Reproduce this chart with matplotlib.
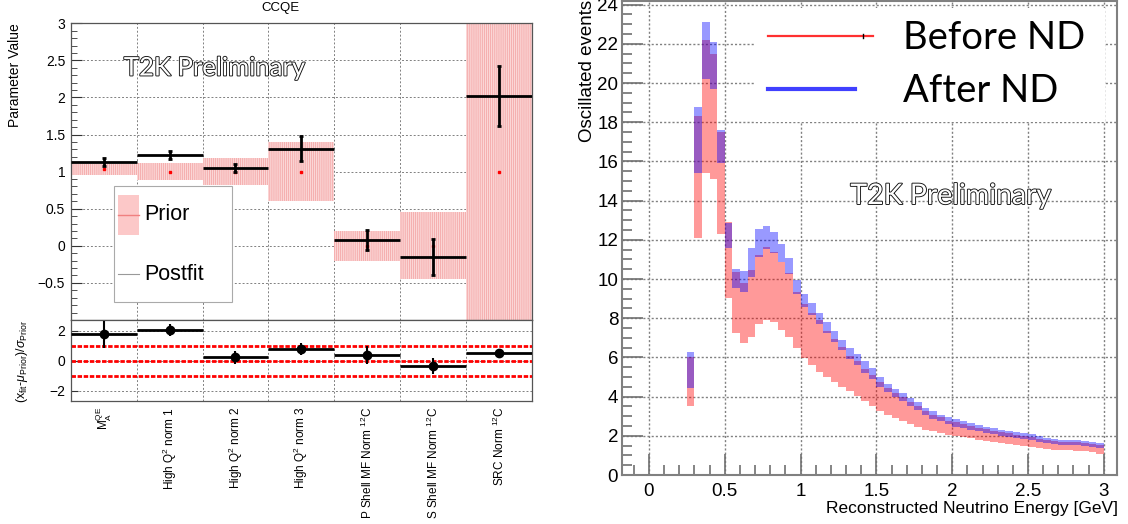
import numpy as np
import matplotlib.pyplot as plt
import matplotlib.patheffects as pe
from matplotlib.patches import Rectangle
from matplotlib.lines import Line2D
from matplotlib.ticker import MultipleLocator

W, H = 1128, 524

plt.rcParams['font.family'] = ['Liberation Sans', 'DejaVu Sans']
plt.rcParams['mathtext.fontset'] = 'custom'
plt.rcParams['mathtext.rm'] = 'Liberation Sans'
plt.rcParams['mathtext.it'] = 'Liberation Sans:italic'
plt.rcParams['hatch.linewidth'] = 0.5

# ---- CCQE parameters (left) ----
par_names = [r'M$_{\rm A}^{\rm QE}$', r'High Q$^{\rm 2}$ norm 1', r'High Q$^{\rm 2}$ norm 2',
             r'High Q$^{\rm 2}$ norm 3', r'P Shell MF Norm $^{\rm 12}$C',
             r'S Shell MF Norm $^{\rm 12}$C', r'SRC Norm $^{\rm 12}$C']
prior_val = [1.03, 1.0, 1.0, 1.0, 0.0, 0.0, 1.0]
prior_err = [0.07, 0.11, 0.18, 0.40, 0.20, 0.45, 2.04]
post_val = [1.13, 1.225, 1.05, 1.31, 0.077, -0.148, 2.02]
post_err = [0.06, 0.06, 0.05, 0.17, 0.13, 0.24, 0.40]
pull_val = [1.78, 2.07, 0.24, 0.80, 0.40, -0.31, 0.55]
pull_err = [0.90, 0.42, 0.42, 0.40, 0.60, 0.53, 0.15]

# ---- oscillated event spectrum (right), 0.05 GeV bins from 0.25 GeV ----
bin_start, bin_w = 0.25, 0.05
before_lo = [3.54, 12.1, 15.4, 15.1, 12.3, 9.05, 7.23, 6.72, 7.06, 7.69,
             7.91, 7.79, 7.40, 7.06, 6.46, 5.95, 5.61, 5.24, 4.98, 4.76,
             4.49, 4.27, 4.01, 3.80, 3.53, 3.24, 3.07, 2.90, 2.73, 2.61,
             2.47, 2.30, 2.22, 2.13, 2.05, 1.99, 1.93, 1.88, 1.79, 1.74,
             1.67, 1.62, 1.57, 1.52, 1.47, 1.44, 1.39, 1.34, 1.30, 1.27,
             1.26, 1.25, 1.22, 1.18, 1.08]
before_hi = [6.04, 18.3, 22.2, 21.5, 17.5, 12.9, 10.37, 9.78, 10.46, 11.22,
             11.62, 11.39, 10.88, 10.29, 9.35, 8.72, 8.28, 7.91, 7.36, 6.94,
             6.51, 6.06, 5.80, 5.41, 5.12, 4.73, 4.44, 4.18, 3.98, 3.72,
             3.50, 3.24, 3.07, 2.94, 2.78, 2.70, 2.60, 2.50, 2.42, 2.33,
             2.25, 2.18, 2.12, 2.06, 1.99, 1.94, 1.86, 1.79, 1.72, 1.67,
             1.67, 1.68, 1.64, 1.57, 1.52]
after_lo = [4.42, 15.4, 20.2, 19.7, 15.9, 11.57, 9.56, 9.35, 10.09, 11.10,
            11.55, 11.35, 10.85, 10.25, 9.23, 8.59, 8.16, 7.69, 7.26, 6.80,
            6.38, 5.90, 5.60, 5.20, 4.90, 4.50, 4.22, 3.97, 3.77, 3.52,
            3.30, 3.05, 2.88, 2.75, 2.60, 2.47, 2.38, 2.30, 2.22, 2.14,
            2.07, 2.00, 1.94, 1.89, 1.82, 1.77, 1.70, 1.63, 1.57, 1.52,
            1.52, 1.52, 1.48, 1.42, 1.36]
after_hi = [6.26, 18.8, 23.1, 22.1, 17.6, 12.87, 10.49, 10.42, 11.57, 12.55,
            12.72, 12.38, 11.77, 11.09, 9.95, 9.23, 8.76, 8.28, 7.82, 7.35,
            6.89, 6.48, 6.19, 5.80, 5.46, 4.98, 4.64, 4.39, 4.18, 3.92,
            3.70, 3.41, 3.24, 3.07, 2.94, 2.87, 2.76, 2.66, 2.55, 2.46,
            2.38, 2.31, 2.24, 2.18, 2.12, 2.07, 1.99, 1.91, 1.83, 1.78,
            1.78, 1.79, 1.75, 1.70, 1.65]

fig = plt.figure(figsize=(W / 100, H / 100), dpi=100)


def fx(x):
    return x / W


def fy(y):
    return 1 - y / H


def outlined(x, y, s, size):
    fig.text(fx(x), fy(y), s, fontsize=size, family=['Lato', 'DejaVu Sans'],
             color='white', ha='center', va='center', zorder=20,
             path_effects=[pe.withStroke(linewidth=1.3, foreground='#111111')])


npar = len(par_names)
idx = np.arange(npar)
cent = idx + 0.5
grid_kw = dict(color='#808080', linestyle=(0, (2, 2)), linewidth=0.7)
fmt_g = plt.FuncFormatter(lambda v, p: f'{v:g}'.replace('-', '\u2212'))

# ---------- left: parameter values ----------
ax1 = fig.add_axes([fx(70.7), fy(320), fx(532) - fx(70.7), fy(23.3) - fy(320)])
ax1.set_xlim(0, npar)
ax1.set_ylim(-1, 3)
ax1.bar(cent, 2 * np.array(prior_err), bottom=np.array(prior_val) - np.array(prior_err),
        width=1.0, facecolor='#fbd6d6', edgecolor='#f3a0a0', hatch='||||||||', linewidth=0, zorder=2)
ax1.plot(cent, prior_val, 's', color='red', ms=1.6, zorder=3)
ax1.hlines(post_val, idx, idx + 1, color='black', lw=2, zorder=4)
ax1.errorbar(cent, post_val, yerr=post_err, fmt='none', ecolor='black',
             elinewidth=2, capsize=1.5, capthick=2, zorder=4)
ax1.set_yticks(np.arange(-0.5, 3.01, 0.5))
ax1.yaxis.set_major_formatter(fmt_g)
ax1.yaxis.set_minor_locator(MultipleLocator(0.1))
ax1.set_xticks(np.arange(1, npar))
ax1.tick_params(axis='x', length=0, labelbottom=False)
ax1.tick_params(axis='y', which='major', direction='in', length=8, width=0.8,
                labelsize=10, pad=4, colors='#333333', labelcolor='black')
ax1.tick_params(axis='y', which='minor', direction='in', length=4, width=0.6, colors='#333333')
ax1.grid(True, **grid_kw)
ax1.set_axisbelow(True)
for s in ax1.spines.values():
    s.set_color('#555555')
    s.set_linewidth(0.9)

# ---------- left: pulls ----------
ax2 = fig.add_axes([fx(70.7), fy(401), fx(532) - fx(70.7), fy(320) - fy(401)])
ax2.set_xlim(0, npar)
ax2.set_ylim(-2.67, 2.73)
for yv in (-1, 0, 1):
    ax2.axhline(yv, color='red', lw=2, linestyle=(0, (1.6, 0.6)), zorder=2)
ax2.hlines(pull_val, idx, idx + 1, color='black', lw=2, zorder=4)
ax2.errorbar(cent, pull_val, yerr=pull_err, fmt='o', color='black', ms=6,
             elinewidth=1.5, capsize=0, zorder=5)
ax2.set_yticks([-2, 0, 2])
ax2.set_xticks(np.arange(1, npar), minor=True)
ax2.set_xticks(cent)
ax2.set_xticklabels(par_names, rotation=90, fontsize=8.5, va='top', ha='center')
ax2.tick_params(axis='x', which='both', length=0, pad=4)
ax2.tick_params(axis='y', direction='in', length=5, width=0.8, labelsize=10, pad=4,
                colors='#333333', labelcolor='black')
ax2.grid(True, axis='y', **grid_kw)
ax2.grid(True, axis='x', which='minor', **grid_kw)
ax2.set_axisbelow(True)
for s in ax2.spines.values():
    s.set_color('#555555')
    s.set_linewidth(0.9)

fig.text(fx(280), fy(8.5), 'CCQE', fontsize=9.5, ha='center', va='center')
fig.text(fx(15), fy(23), 'Parameter Value', fontsize=10, rotation=90, ha='center', va='top')
fig.text(fx(22), fy(361), r'(x$_{\rm fit}$-$\mu_{\rm Prior}$)/$\sigma_{\rm Prior}$',
         fontsize=9, rotation=90, ha='center', va='center')
outlined(215, 68, 'T2K Preliminary', 18.5)

# left legend
fig.add_artist(Rectangle((fx(114), fy(302)), fx(232) - fx(114), fy(186) - fy(302),
                         transform=fig.transFigure, facecolor='white', edgecolor='#aaaaaa',
                         linewidth=0.8, zorder=10))
fig.add_artist(Rectangle((fx(118), fy(235)), fx(139) - fx(118), fy(195) - fy(235),
                         transform=fig.transFigure, facecolor='#fcc8c8', edgecolor='none', zorder=11))
fig.add_artist(Line2D([fx(118), fx(139)], [fy(215), fy(215)], color='#f08080', lw=1, zorder=12))
fig.add_artist(Line2D([fx(118), fx(139)], [fy(274), fy(274)], color='#999999', lw=0.8, zorder=12))
fig.text(fx(144), fy(215), 'Prior', fontsize=15.5, ha='left', va='center', zorder=12)
fig.text(fx(144), fy(274), 'Postfit', fontsize=15.5, ha='left', va='center', zorder=12)

# ---------- right: oscillated events ----------
nb = len(before_lo)
left_edges = bin_start + bin_w * np.arange(nb)
blo, bhi = np.array(before_lo), np.array(before_hi)
alo, ahi = np.array(after_lo), np.array(after_hi)

ax3 = fig.add_axes([fx(622.3), fy(475), fx(1117) - fx(622.3), fy(0.7) - fy(475)])
ax3.set_xlim(-0.176, 3.087)
ax3.set_ylim(0, 24.2)
ax3.bar(left_edges, bhi - blo, bottom=blo, width=bin_w, align='edge',
        color='red', alpha=0.4, linewidth=0, zorder=2)
ax3.bar(left_edges, ahi - alo, bottom=alo, width=bin_w, align='edge',
        color='blue', alpha=0.4, linewidth=0, zorder=3)
ax3.xaxis.set_major_locator(MultipleLocator(0.5))
ax3.xaxis.set_minor_locator(MultipleLocator(0.1))
ax3.yaxis.set_major_locator(MultipleLocator(2))
ax3.yaxis.set_minor_locator(MultipleLocator(0.5))
ax3.tick_params(which='major', direction='in', length=15, width=1.2, labelsize=13.5,
                colors='#707070', labelcolor='black')
ax3.tick_params(which='minor', direction='in', length=7, width=1.2, colors='#707070')
ax3.tick_params(axis='x', pad=6)
ax3.tick_params(axis='y', pad=3)
ax3.xaxis.set_major_formatter(fmt_g)
ax3.grid(True, color='#808080', linestyle=(0, (1.5, 1.5)), linewidth=1.0)
ax3.set_axisbelow(True)
for s in ax3.spines.values():
    s.set_color('#808080')
    s.set_linewidth(1.5)

fig.text(fx(587), fy(0), 'Oscillated events', fontsize=13.5, rotation=90, ha='center', va='top')
fig.text(fx(1118), fy(508), 'Reconstructed Neutrino Energy [GeV]', fontsize=12.5,
         ha='right', va='center')

# right legend
fig.add_artist(Rectangle((fx(755), fy(122)), fx(1105) - fx(755), fy(8) - fy(122),
                         transform=fig.transFigure, facecolor='white', edgecolor='none', zorder=10))
fig.add_artist(Line2D([fx(768), fx(873)], [fy(36), fy(36)], color='#ff3030', lw=1.6, zorder=12))
fig.add_artist(Line2D([fx(863), fx(863)], [fy(34), fy(38)], color='black', lw=1, zorder=13))
fig.add_artist(Line2D([fx(768), fx(855)], [fy(89), fy(89)], color='#4040ff', lw=3, zorder=12))
fig.text(fx(903), fy(38), 'Before ND', fontsize=27.5, family=['Lato', 'DejaVu Sans'],
         ha='left', va='center', zorder=12)
fig.text(fx(903), fy(91), 'After ND', fontsize=27.5, family=['Lato', 'DejaVu Sans'],
         ha='left', va='center', zorder=12)
outlined(951, 196, 'T2K Preliminary', 20.5)

fig.savefig('out.png', dpi=100)
